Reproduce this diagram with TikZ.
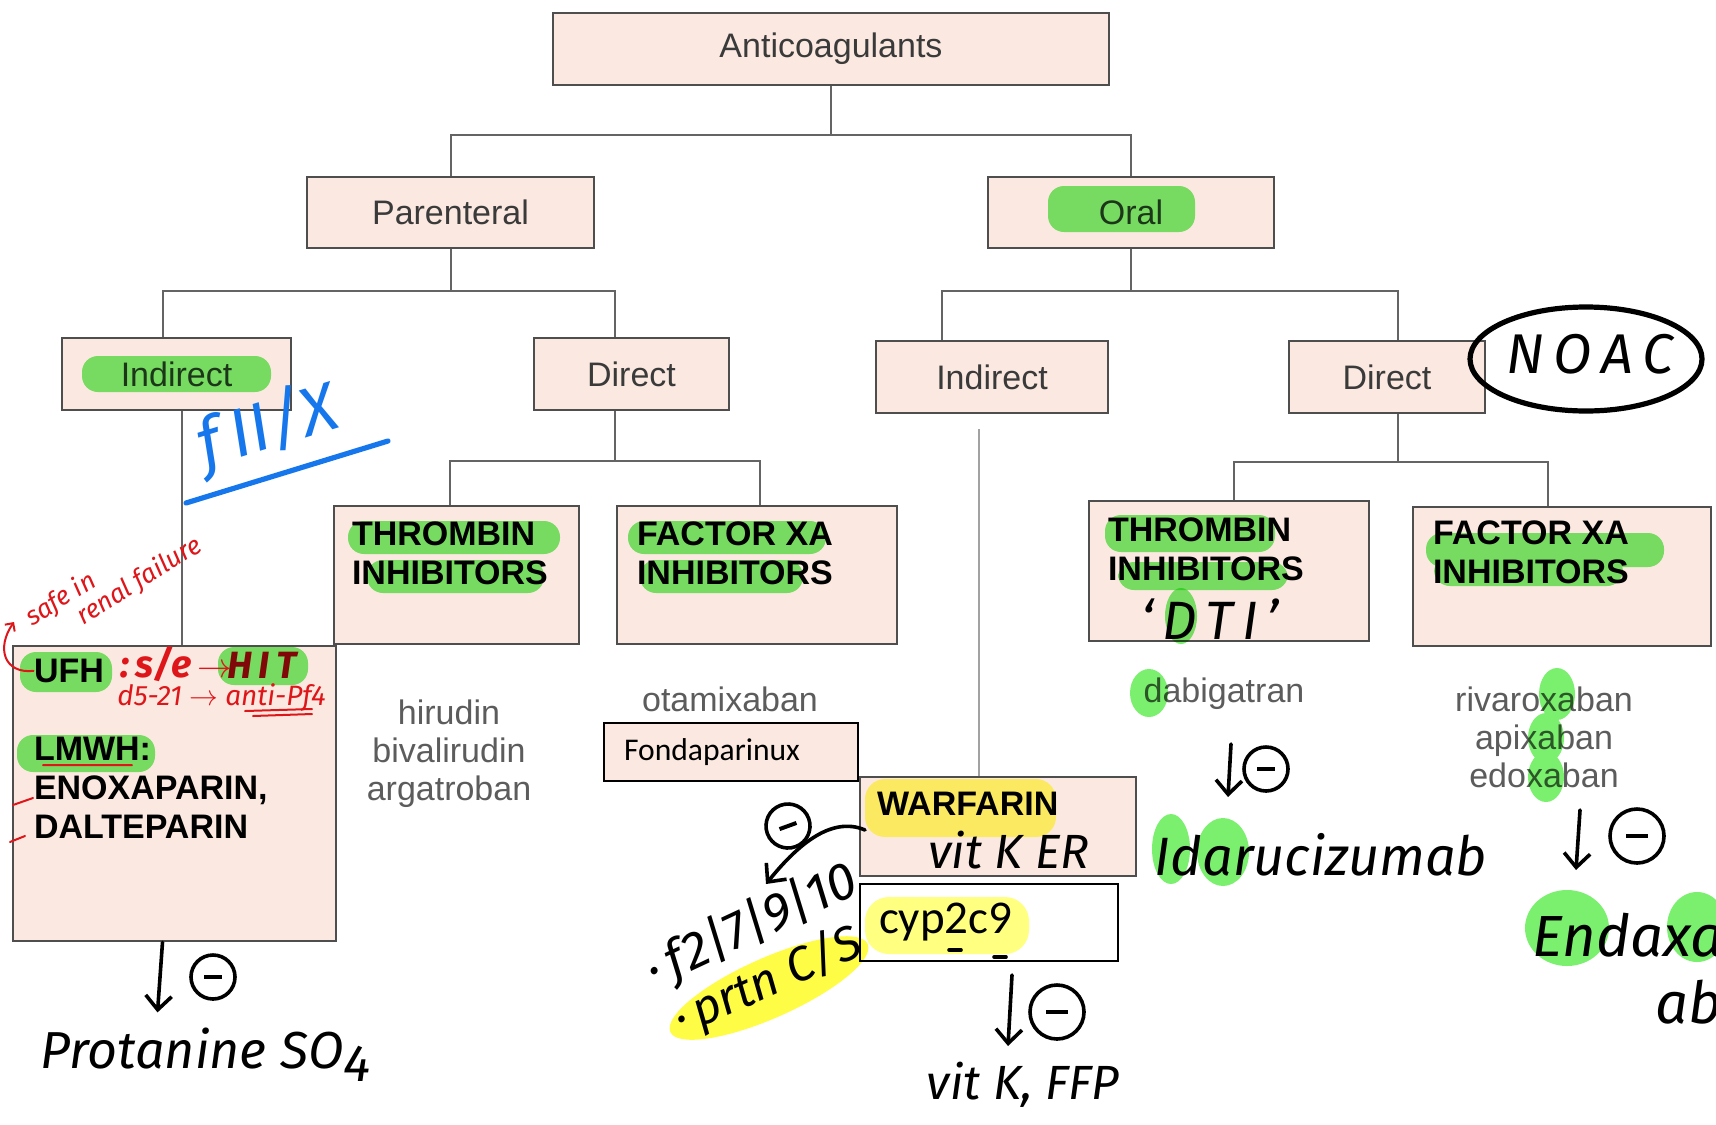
\documentclass[tikz,border=0pt]{standalone}
\usepackage{fontspec}
\setmainfont{Liberation Sans}
\newfontfamily\calib{Carlito}
\newfontfamily\hand{Fira Sans}
\usetikzlibrary{arrows.meta}

\definecolor{boxfill}{RGB}{251,233,225}
\definecolor{boxline}{RGB}{78,78,78}
\definecolor{linkgray}{RGB}{100,100,100}
\definecolor{labelgray}{RGB}{58,58,58}
\definecolor{druggray}{RGB}{92,92,92}
\definecolor{markgreen}{RGB}{122,240,110}
\definecolor{markyellow}{RGB}{255,252,70}
\definecolor{warfyellow}{RGB}{255,255,112}
\definecolor{cypyellow}{RGB}{255,255,128}
\definecolor{penblue}{RGB}{22,118,235}
\definecolor{penred}{RGB}{222,22,26}
\definecolor{pendarkred}{RGB}{128,8,8}

\tikzset{
	sized/.style 2 args={minimum width=#1*0.5pt, minimum height=#2*0.5pt},
	box/.style={draw=boxline, fill=boxfill, line width=1.4pt, text=labelgray, font=\fontsize{17}{19}\selectfont},
	thinbox/.style={draw=black, fill=boxfill, line width=1pt, align=left, font=\calib\fontsize{15.8}{18}\selectfont},
	boldtext/.style={inner sep=0pt, align=left, text=black, font=\bfseries\fontsize{17}{19.5}\selectfont},
	drug/.style={align=center, text=druggray, font=\fontsize{17}{19}\selectfont},
	link/.style={draw=linkgray, line width=1pt},
	hw/.style={inner sep=0pt, font=\hand\itshape\fontsize{#1}{#1}\selectfont},
	hwbold/.style={inner sep=0pt, font=\hand\itshape\bfseries\fontsize{#1}{#1}\selectfont},
	inhib/.style={circle, draw, line width=1.8pt, minimum size=#1, inner sep=0pt},
	handarrow/.style={line width=1.8pt, line cap=round, -{Straight Barb[length=7pt, width=13pt]}},
	greenmark/.style={fill=markgreen, rounded corners=8pt},
	redpen/.style={draw=penred, line width=1pt, line cap=round}
}

\begin{document}
\begin{tikzpicture}[x=0.5pt, y=-0.5pt]
	\useasboundingbox (0,0) rectangle (1716,1124);
	\clip (0,0) rectangle (1716,1124);
	\fill[white] (0,0) rectangle (1716,1124);

	\draw
	(831,49) node[box, sized={556}{72}] (anti) {Anticoagulants}
	(450.5,212.5) node[box, sized={287}{71}] (parent) {Parenteral}
	(1131,212.5) node[box, sized={286}{71}] (oral) {Oral}
	(176.5,374) node[box, sized={229}{72}] (pind) {Indirect}
	(631.5,374) node[box, sized={195}{72}] (pdir) {Direct}
	(992,377) node[box, sized={232}{72}] (oind) {Indirect}
	(1387,377) node[box, sized={196}{72}] (odir) {Direct}
	(456.5,575) node[box, sized={245}{138}] (pthr) {}
	(757,575) node[box, sized={280}{138}] (pfxa) {}
	(1229,571) node[box, sized={280}{140}] (othr) {}
	(1562,576.5) node[box, sized={298}{139}] (ofxa) {}
	(174.5,793.5) node[box, sized={323}{295}] (hep) {}
	(998,826.5) node[box, sized={276}{99}] (warf) {}
	(731,752) node[thinbox, text width=107pt, inner xsep=10pt, minimum height=29pt] (fonda) {Fondaparinux}
	(989,922.5) node[thinbox, fill=white, text width=110pt, inner xsep=9.5pt, minimum height=38.5pt, font=\calib\fontsize{23.5}{26}\selectfont] (cyp) {cyp2c9}
	;

	\draw[link]
	(anti.south) -- ++(0,49) coordinate (fork1)
	(parent.north) |- (fork1) -| (oral.north)
	(parent.south) -- ++(0,42) coordinate (fork2)
	([xshift=-6.75pt]pind.north) |- (fork2) -| ([xshift=-8.25pt]pdir.north)
	([xshift=-8.25pt]pdir.south) -- ++(0,50) coordinate (fork3)
	([xshift=-3.25pt]pthr.north) |- (fork3) -| ([xshift=1.5pt]pfxa.north)
	([xshift=2.75pt]pind.south) -- ([xshift=3.75pt]hep.north)
	(oral.south) -- ++(0,42) coordinate (fork4)
	([xshift=-25pt]oind.north) |- (fork4) -| ([xshift=5.5pt]odir.north)
	([xshift=5.5pt]odir.south) -- ++(0,48) coordinate (fork5)
	([xshift=2.5pt]othr.north) |- (fork5) -| ([xshift=-7pt]ofxa.north)
	;
	\draw[link, draw=linkgray!60] ([xshift=-6.5pt, yshift=-7.5pt]oind.south) -- ([xshift=-9.5pt]warf.north);

	\node[boldtext, anchor=north west] (pthrtxt) at ([shift={(19,17)}]pthr.north west) {THROMBIN\\INHIBITORS};
	\node[boldtext, anchor=north west] (pfxatxt) at ([shift={(21,17)}]pfxa.north west) {FACTOR XA\\INHIBITORS};
	\node[boldtext, anchor=north west] (othrtxt) at ([shift={(20,18)}]othr.north west) {THROMBIN\\INHIBITORS};
	\node[boldtext, anchor=north west] (ofxatxt) at ([shift={(21,15)}]ofxa.north west) {FACTOR XA\\INHIBITORS};
	\node[boldtext, anchor=north west] (ufh) at ([shift={(22,14)}]hep.north west) {UFH};
	\node[boldtext, anchor=north west] (lmwh) at ([shift={(22,92)}]hep.north west) {LMWH:\\ENOXAPARIN,\\DALTEPARIN};
	\node[boldtext, anchor=north west] (warftxt) at ([shift={(18,16)}]warf.north west) {WARFARIN};

	\node[drug] (ptlist) at (449,754) {hirudin\\bivalirudin\\argatroban};
	\node[drug] (pflist) at (730,699) {otamixaban};
	\node[drug] (otlist) at (1224,694) {dabigatran};
	\node[drug] (oflist) at (1544,737) {rivaroxaban\\apixaban\\edoxaban};

	\begin{scope}[blend mode=multiply]
		\fill[greenmark]
		(1048,186) rectangle (1195,232)
		(82,356) rectangle (271,392)
		(348,521) rectangle (560,554)
		(367,560) rectangle (544,593)
		(628,521) rectangle (826,554)
		(640,560) rectangle (803,593)
		(1105,515) rectangle (1275,552)
		(1118,562) rectangle (1288,590)
		(1426,533) rectangle (1664,567)
		(1434,556) rectangle (1623,586)
		(20,652) rectangle (112,692)
		(218,647) rectangle (308,685)
		(17,735) rectangle (155,772);
		\fill[markgreen]
		(1181,616) ellipse (16 and 28)
		(1149,693) ellipse (19 and 24)
		(1557,694) ellipse (18 and 26)
		(1546,738) ellipse (18 and 25)
		(1546,777) ellipse (18 and 25)
		(1171,849) ellipse (19 and 35)
		(1223,852) ellipse (26 and 34)
		(1567,928) ellipse (42 and 38)
		(1697,927) ellipse (30 and 35);
		\fill[warfyellow, rounded corners=10pt] (865,779) rectangle (1056,837);
		\fill[cypyellow, rounded corners=12pt] (865,897) rectangle (1029,954);
		\fill[markyellow, rotate around={24:(769,988)}] (769,988) ellipse (108 and 30);
	\end{scope}

	\node[hw=34, text=penblue, rotate=17] (fxnote) at (268,428) {f\,II/X};
	\draw[penblue, line width=2.6pt, line cap=round] (186,503) -- (388,441);

	\node[hw=13, text=penred, rotate=32, align=left] (safe) at (114,582) {safe in\\\hspace*{1.7em}renal failure};
	\coordinate (safetip) at (14,622);
	\draw[redpen, -{Straight Barb[length=3pt, width=6pt]}] (ufh.west) .. controls (4,674) and (-4,648) .. (safetip);
	\node[hwbold=19, text=penred, anchor=west] (sidefx) at (120,664) {:\,s/e\,$\rightarrow$};
	\node[hwbold=19, text=pendarkred] (hit) at (262,665) {H\,I\,T};
	\node[hw=14, text=penred, anchor=west] (dayline) at (117,698) {d5-21 $\rightarrow$ anti-Pf4};
	\draw[redpen] (245,711) -- (312,709) (253,716) -- (312,714) (43,765) -- (132,765) (13,805) -- (33,798) (10,842) -- (25,836);

	\node[hw=26] (prot) at (206,1055) {Protanine SO\raisebox{-0.25em}{4}};
	\node[inhib=22pt] (inh1) at (213,977) {\rule{9pt}{2pt}};
	\draw[handarrow] ([xshift=-6pt]hep.south) -- ++(-5,70);

	\node[hw=24, anchor=west] (vitker) at (928,850) {vit K ER};
	\coordinate (wtip) at (766,884);
	\draw[handarrow] (865,830) .. controls (830,815) and (795,848) .. (wtip);
	\node[inhib=22pt, rotate=20] (inh2) at (788,826) {\rule{9pt}{2pt}};
	\node[hw=26, rotate=25] (factors) at (752,926) {·\,f2|7|9|10};
	\node[hw=24, rotate=24] (protc) at (768,982) {·\,prtn C/S};
	\draw[line width=1.8pt, line cap=round] (949,950) -- (961,950) (994,957) -- (1006,957);

	\draw[handarrow] ([xshift=11.5pt, yshift=-6.5pt]cyp.south) -- ++(-4,71);
	\node[inhib=27pt] (inh3) at (1057,1012) {\rule{11pt}{2pt}};
	\node[hw=24] (vitkffp) at (1023,1085) {vit K, FFP};

	\draw[handarrow] (1231,744) -- ++(-3,53);
	\node[inhib=22pt] (inh4) at (1266,769) {\rule{9pt}{2pt}};
	\node[hw=27] (idaru) at (1321,855) {Idarucizumab};

	\draw[handarrow] (1580,810) -- ++(-4,60);
	\node[inhib=27pt] (inh5) at (1637,836) {\rule{11pt}{2pt}};
	\node[hw=29, anchor=west] (andex) at (1532,935) {Endaxa};
	\node[hw=29, anchor=west] (andexb) at (1655,1002) {ab};

	\node[hw=27] (dti) at (1210,619) {‘\,D\,T\,I\,’};
	\node[hw=28] (noac) at (1590,354) {N\,O\,A\,C};
	\draw[line width=2.6pt] ([shift={(-4,5)}]noac.center) ellipse (116 and 52);
\end{tikzpicture}
\end{document}
